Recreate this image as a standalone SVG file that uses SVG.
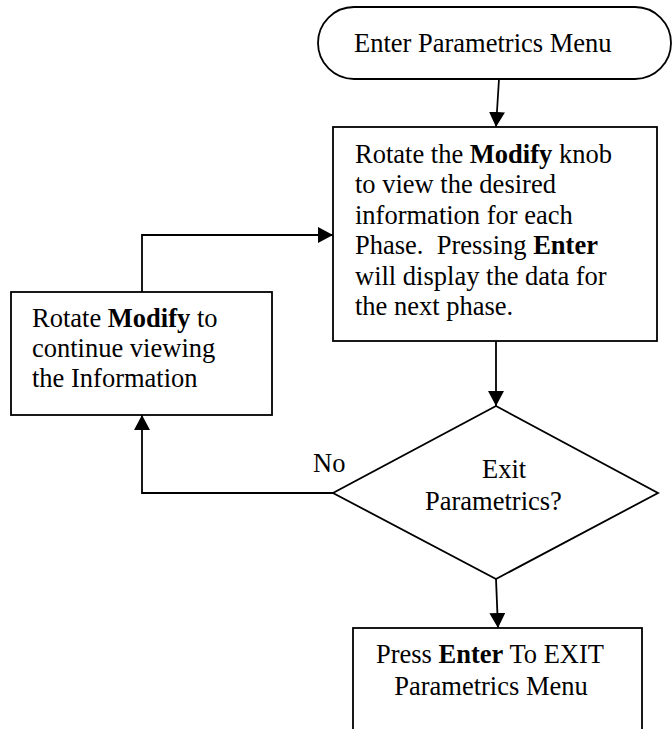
<svg xmlns="http://www.w3.org/2000/svg" width="672" height="729" viewBox="0 0 672 729">
<defs>
<marker id="arr" markerUnits="userSpaceOnUse" markerWidth="18" markerHeight="18" refX="15" refY="8" orient="auto">
<path d="M0,0 L15,8 L0,16 Z" fill="#000"/>
</marker>
<style>
.shape{fill:#fff;stroke:#000;stroke-width:1.8}
.t{font-family:"Liberation Serif","Times New Roman",serif;font-size:26.5px;fill:#000}
.b{font-weight:bold}
.c{fill:none;stroke:#000;stroke-width:1.8}
</style>
</defs>
<rect width="672" height="729" fill="#fff"/>
<g id="start">
<rect class="shape" x="318" y="7" width="353" height="72" rx="36" ry="36"/>
<text class="t" x="354" y="52">Enter Parametrics Menu</text>
</g>
<g id="rotate-knob">
<rect class="shape" x="333" y="127" width="324" height="214"/>
<text class="t" x="355" y="163">Rotate the <tspan class="b">Modify</tspan> knob</text>
<text class="t" x="355" y="193">to view the desired</text>
<text class="t" x="355" y="224">information for each</text>
<text class="t" x="355" y="254" xml:space="preserve">Phase.  Pressing <tspan class="b">Enter</tspan></text>
<text class="t" x="355" y="285">will display the data for</text>
<text class="t" x="355" y="315">the next phase.</text>
</g>
<g id="rotate-modify">
<rect class="shape" x="11" y="292" width="261" height="123"/>
<text class="t" x="32" y="327">Rotate <tspan class="b">Modify</tspan> to</text>
<text class="t" x="32" y="357">continue viewing</text>
<text class="t" x="32" y="387">the Information</text>
</g>
<g id="exit-decision">
<polygon class="shape" points="496,406 658,493 496,579 333,493"/>
<text class="t" x="482" y="478">Exit</text>
<text class="t" x="425" y="510">Parametrics?</text>
</g>
<g id="exit">
<rect class="shape" x="353" y="628" width="289" height="110"/>
<text class="t" x="490" y="663" text-anchor="middle">Press <tspan class="b">Enter</tspan> To EXIT</text>
<text class="t" x="491" y="695" text-anchor="middle">Parametrics Menu</text>
</g>
<g id="connectors">
<line class="c" x1="499" y1="79" x2="496" y2="127" marker-end="url(#arr)"/>
<line class="c" x1="496" y1="341" x2="496" y2="406" marker-end="url(#arr)"/>
<line class="c" x1="496" y1="579" x2="498" y2="628" marker-end="url(#arr)"/>
<polyline class="c" points="333,493 142,493 142,415" marker-end="url(#arr)"/>
<polyline class="c" points="142,292 142,235 333,235" marker-end="url(#arr)"/>
<text class="t" x="313" y="472">No</text>
</g>
</svg>
